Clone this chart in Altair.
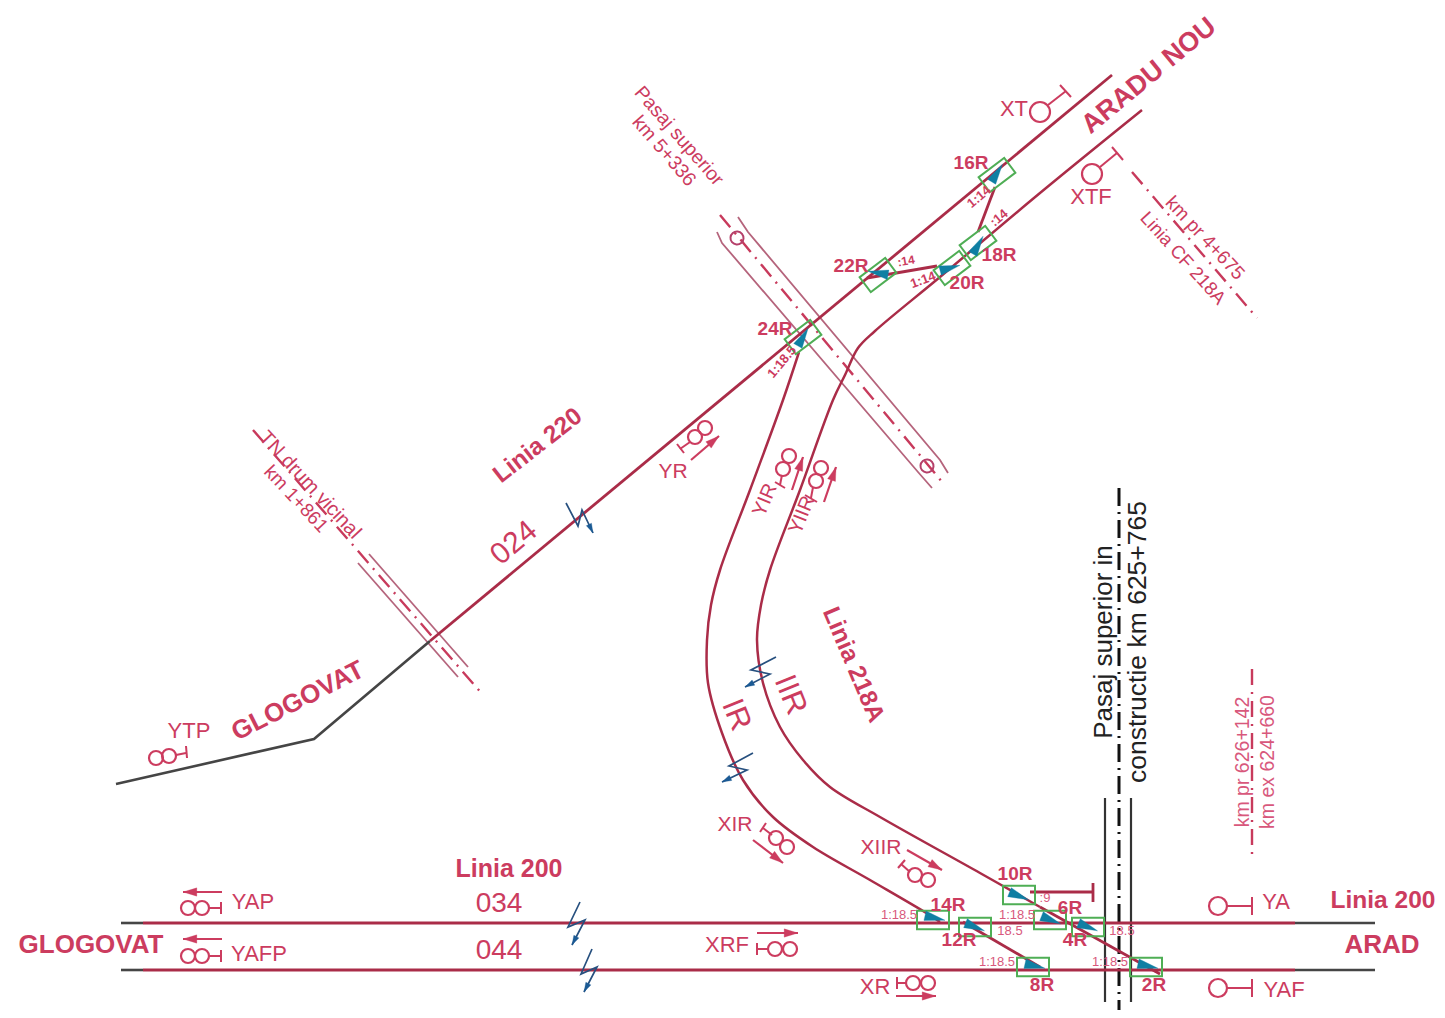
import math
import altair as alt
import pandas as pd

RED = "#aa2c48"
TXT = "#cc3c5f"
PALE = "#d8587c"
DARK = "#454545"
BLUE = "#0f7fa3"
GREEN = "#4fae55"
BOLT = "#27507f"
BRIDGE = "#b5647c"
FONT = "Liberation Sans"

tracks_red = [
    [(430, 641), (1112, 75)],
    [(143, 923), (1295, 923)],
    [(143, 970), (1295, 970)],
    [(963, 922), (1040, 967)],
    [(867, 278), (937, 266)],
    [(978, 232), (995, 187)],
    [(1030, 892), (1093, 892)],
    [(1093, 883), (1093, 902)],
    [(1040, 907), (1160, 974)],
]
tracks_grey = [
    [(116, 784), (314, 739), (430, 641)],
    [(121, 923), (143, 923)],
    [(121, 970), (143, 970)],
    [(1295, 923), (1375, 923)],
    [(1295, 970), (1375, 970)],
]
curve_one = [(799, 352), (783, 400), (750, 490), (720, 570), (711, 605), (707, 640), (708, 683),
             (722, 733), (743, 780), (773, 817), (813, 847), (870, 880), (928, 914), (940, 922)]
curve_two = [(1142, 110), (1040, 193), (940, 277), (875, 331), (858, 348), (845, 375), (833, 400),
             (800, 490), (770, 570), (761, 605), (757, 640), (763, 683), (780, 727), (803, 760), (830, 787),
             (880, 817), (980, 873), (1040, 907)]
bridge_lines = [
    [(738, 217), (748, 232), (940, 460), (948, 473)],
    [(717, 232), (722, 243), (918, 472), (932, 488)],
    [(369, 554), (468, 667)],
    [(358, 563), (458, 677)],
]
dash_red = [
    [(720, 215), (943, 483)],
    [(253, 430), (483, 695)],
    [(1132, 172), (1257, 318)],
    [(1252, 669), (1252, 861)],
]
dash_black = [[(1119, 488), (1119, 1012)]]
side_lines = [[(1105, 798), (1105, 1002)], [(1131, 798), (1131, 1002)]]
signal_stems = [
    [(1066, 91), (1048, 105)], [(1060, 85), (1071, 97)],
    [(1117, 153), (1100, 167)], [(1112, 147), (1123, 160)],
    [(176, 755), (186, 753)], [(186, 746), (187, 758)],
    [(209, 908), (221, 908)], [(221, 902), (221, 914)],
    [(209, 956), (221, 956)], [(221, 950), (221, 962)],
    [(1227, 906), (1252, 906)], [(1252, 897), (1252, 915)],
    [(1227, 988), (1252, 988)], [(1252, 979), (1252, 997)],
    [(757, 949), (768, 949)], [(757, 943), (757, 955)],
    [(897, 983), (906, 983)], [(897, 977), (897, 989)],
    [(901, 864), (910, 872)], [(898, 868), (905, 860)],
    [(763, 828), (772, 835)], [(760, 832), (766, 823)],
    [(680, 449), (690, 442)], [(677, 444), (684, 453)],
    [(780, 485), (782, 475)], [(775, 482), (785, 488)],
    [(811, 498), (813, 487)], [(805, 495), (817, 502)],
]
circle_x = [1040, 1092, 156, 169, 188, 202, 188, 202, 1218, 1218, 775, 790, 913, 928, 915, 928, 776, 787, 695, 705, 783, 789, 816, 821]
circle_y = [112, 174, 758, 756, 908, 908, 956, 956, 906, 988, 949, 949, 983, 983, 875, 880, 838, 847, 437, 428, 469, 456, 481, 468]
circle_r = [10, 10, 7, 7, 7, 7, 7, 7, 9, 9, 7, 7, 7, 7, 7, 7, 7, 7, 7, 7, 7, 7, 7, 7]
arrows = [
    [(222, 892), (183, 892)], [(222, 939), (183, 939)], [(757, 933), (798, 933)], [(896, 996), (936, 996)],
    [(907, 850), (942, 870)], [(753, 840), (783, 863)], [(691, 460), (719, 436)],
    [(792, 490), (803, 457)], [(824, 502), (836, 467)],
]
bolts = [
    [(566, 503), (578, 526), (582, 510), (593, 533)],
    [(776, 657), (751, 670), (770, 674), (745, 687)],
    [(753, 753), (729, 766), (747, 770), (722, 782)],
    [(580, 902), (568, 927), (585, 920), (572, 945)],
    [(592, 949), (581, 974), (597, 967), (584, 992)],
]
switch_x = [997, 878, 803, 952, 978, 933, 975, 1019, 1050, 1088, 1033, 1146]
switch_y = [175, 275, 337, 268, 243, 920, 927, 895, 920, 927, 967, 967]
switch_a = [-37, -37, -37, -37, -37, 0, 0, 0, 0, 0, 0, 0]
wedge_x = [997, 878, 803, 950, 978, 935, 975, 1019, 1051, 1088, 1035, 1148]
wedge_y = [173, 273, 337, 268, 245, 918, 927, 896, 920, 927, 966, 966]
wedge_a = [-58, 190, -60, -15, -60, 13, 22, 22, 22, 22, 13, 13]
circle_marks = [(737, 238), (927, 466)]

labels = [
    ("GLOGOVAT", 91, 945, 0, 26, "bold", TXT),
    ("ARAD", 1382, 945, 0, 26, "bold", TXT),
    ("Linia 200", 1383, 901, 0, 24.5, "bold", TXT),
    ("Linia 200", 509, 869, 0, 25, "bold", TXT),
    ("ARADU NOU", 1149, 76, -39.5, 27, "bold", TXT),
    ("GLOGOVAT", 298, 701, -27, 26, "bold", TXT),
    ("Linia 220", 538, 446, -38, 24.5, "bold", TXT),
    ("Linia 218A", 853, 665, 67, 24.5, "bold", TXT),
    ("024", 514, 543, -40, 30, "normal", TXT),
    ("034", 499, 904, 0, 28, "normal", TXT),
    ("044", 499, 951, 0, 28, "normal", TXT),
    ("IR", 736, 715, 68, 31, "normal", TXT),
    ("IIR", 790, 695, 68, 31, "normal", TXT),
    ("XT", 1014, 109, 0, 22, "normal", TXT),
    ("XTF", 1091, 197, 0, 22, "normal", TXT),
    ("YTP", 189, 731, 0, 22, "normal", TXT),
    ("YAP", 253, 902, 0, 22, "normal", TXT),
    ("YAFP", 259, 954, 0, 22, "normal", TXT),
    ("YA", 1276, 902, 0, 22, "normal", TXT),
    ("YAF", 1284, 990, 0, 22, "normal", TXT),
    ("XRF", 727, 945, 0, 22, "normal", TXT),
    ("XR", 875, 987, 0, 22, "normal", TXT),
    ("XIIR", 881, 848, 0, 21, "normal", TXT),
    ("XIR", 735, 825, 0, 21, "normal", TXT),
    ("YR", 673, 472, 0, 21, "normal", TXT),
    ("YIR", 765, 500, -67, 20, "normal", TXT),
    ("YIIR", 802, 515, -68, 20, "normal", TXT),
    ("16R", 971, 163, 0, 19, "bold", TXT),
    ("22R", 851, 266, 0, 19, "bold", TXT),
    ("24R", 775, 329, 0, 19, "bold", TXT),
    ("20R", 967, 283, 0, 19, "bold", TXT),
    ("18R", 999, 255, 0, 19, "bold", TXT),
    ("10R", 1015, 874, 0, 19, "bold", TXT),
    ("14R", 948, 905, 0, 19, "bold", TXT),
    ("12R", 959, 940, 0, 19, "bold", TXT),
    ("6R", 1070, 908, 0, 19, "bold", TXT),
    ("4R", 1075, 940, 0, 19, "bold", TXT),
    ("8R", 1042, 985, 0, 19, "bold", TXT),
    ("2R", 1154, 985, 0, 19, "bold", TXT),
    (":14", 906, 261, -10, 12, "bold", TXT),
    ("1:14", 923, 280, -20, 13, "bold", TXT),
    ("1:14", 979, 197, -40, 13, "bold", TXT),
    (":14", 999, 218, -40, 13, "bold", TXT),
    ("1:18.5", 782, 362, -50, 13, "bold", TXT),
    ("1:18.5", 899, 915, 0, 13, "normal", PALE),
    ("1:18.5", 1017, 915, 0, 13, "normal", PALE),
    ("18.5", 1010, 931, 0, 13, "normal", PALE),
    ("18.5", 1122, 931, 0, 13, "normal", PALE),
    ("1:18.5", 997, 962, 0, 13, "normal", PALE),
    ("1:18.5", 1110, 962, 0, 13, "normal", PALE),
    (":9", 1045, 898, 0, 13, "normal", PALE),
    ("Pasaj superior", 679, 136, 49, 19.5, "normal", TXT),
    ("km 5+336", 664, 151, 49, 19.5, "normal", TXT),
    ("TN drum vicinal", 310, 485, 47, 20, "normal", TXT),
    ("km 1+861", 296, 499, 47, 19, "normal", TXT),
    ("km pr 4+675", 1205, 238, 47, 19, "normal", TXT),
    ("Linia CF 218A", 1183, 258, 48, 18.5, "normal", TXT),
    ("Pasaj superior in", 1104, 642, -90, 26, "normal", "#222222"),
    ("constructie km 625+765", 1138, 642, -90, 26.5, "normal", "#222222"),
    ("km pr 626+142", 1243, 762, -90, 19.5, "normal", PALE),
    ("km ex 624+660", 1268, 762, -90, 19.5, "normal", PALE),
]

xs = alt.Scale(domain=[8, 1437], nice=False, zero=False)
ys = alt.Scale(domain=[1010, 8], nice=False, zero=False)
X = alt.X("x:Q", scale=xs, axis=None)
Y = alt.Y("y:Q", scale=ys, axis=None)


def paths(groups, color, width, dash=None, interpolate="linear"):
    rows = [{"g": i, "o": j, "x": p[0], "y": p[1]} for i, g in enumerate(groups) for j, p in enumerate(g)]
    kw = {"color": color, "strokeWidth": width, "interpolate": interpolate}
    if dash:
        kw["strokeDash"] = dash
    return alt.Chart(pd.DataFrame(rows)).mark_line(**kw).encode(
        x=X, y=Y, detail="g:N", order="o:Q")


def shapes(xv, yv, av, shape, size, color, filled=True, stroke_width=1.5):
    df = pd.DataFrame({"x": xv, "y": yv, "a": [v % 360 for v in av]})
    if filled:
        mark = alt.Chart(df).mark_point(shape=shape, size=size, filled=True, fill=color, stroke=color,
                                        strokeWidth=0.3, opacity=1)
    else:
        mark = alt.Chart(df).mark_point(shape=shape, size=size, filled=False, stroke=color,
                                        strokeWidth=stroke_width, opacity=1)
    return mark.encode(x=X, y=Y, angle=alt.Angle("a:Q", scale=None))


def heads(groups, size, color):
    hx, hy, ha = [], [], []
    half = math.sqrt(size) / 2
    for g in groups:
        (x0, y0), (x1, y1) = g[-2], g[-1]
        a = math.atan2(y1 - y0, x1 - x0)
        hx.append(x1 - half * math.cos(a))
        hy.append(y1 - half * math.sin(a))
        ha.append(math.degrees(a))
    return shapes(hx, hy, ha, "M1,0L-1,-0.6L-1,0.6Z", size, color)


def texts(rows):
    df = pd.DataFrame(rows, columns=["t", "x", "y", "a", "s", "w", "c"])
    df["a"] = df["a"] % 360
    layers = []
    for (w, c), part in df.groupby(["w", "c"]):
        layers.append(alt.Chart(part).mark_text(font=FONT, fontWeight=w, color=c, align="center",
                                                baseline="middle").encode(
            x=X, y=Y, text="t:N", angle=alt.Angle("a:Q", scale=None), size=alt.Size("s:Q", scale=None)))
    return layers


circles = pd.DataFrame({"x": circle_x, "y": circle_y, "s": [(2 * r) ** 2 for r in circle_r]})
circle_layer = alt.Chart(circles).mark_point(shape="circle", filled=False, stroke=TXT, strokeWidth=2.2, opacity=1).encode(
    x=X, y=Y, size=alt.Size("s:Q", scale=None))

layers = [
    paths(bridge_lines, BRIDGE, 1.8),
    paths(dash_red, "#c83a5c", 2.4, [16, 7, 2, 7]),
    paths(dash_black, "#111111", 3, [18, 6, 2, 6]),
    paths(side_lines, "#333333", 2.2),
    shapes([p[0] for p in circle_marks], [p[1] for p in circle_marks], [50, 50], "circle", 170, "#b5406a", False, 2),
    paths(tracks_grey, DARK, 2.6),
    paths(tracks_red, RED, 2.8),
    paths([curve_one, curve_two], RED, 2.5, interpolate="catmull-rom"),
    shapes(switch_x, switch_y, switch_a, "M-1,-0.58L1,-0.58L1,0.58L-1,0.58Z", 1024, GREEN, False, 2),
    shapes(wedge_x, wedge_y, wedge_a, "M1,0L-1,-0.47L-1,0.47Z", 420, BLUE),
    paths(signal_stems, TXT, 2),
    circle_layer,
    paths(arrows, TXT, 2.2),
    heads(arrows, 190, TXT),
    paths(bolts, BOLT, 1.7),
    heads(bolts, 90, "#1b5a94"),
] + texts(labels)

chart = alt.layer(*layers).properties(
    width=1429, height=1002, padding=0, autosize=alt.AutoSizeParams(type="none"), background="white"
).configure_view(stroke=None)

chart.save("out.html", embed_options={"renderer": "svg", "actions": False})
